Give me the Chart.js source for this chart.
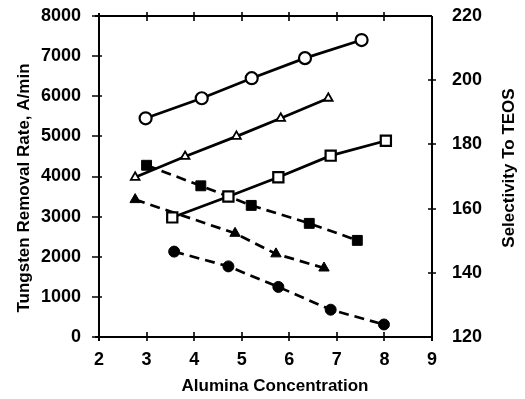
<!DOCTYPE html>
<html>
<head>
<meta charset="utf-8">
<script src="https://cdn.jsdelivr.net/npm/chart.js@4/dist/chart.umd.min.js"></script>
<style>
  html, body { margin: 0; padding: 0; background: #fff; }
  #wrap { width: 525px; height: 399px; position: relative; }
</style>
</head>
<body>
<div id="wrap"><canvas id="c" width="525" height="399"></canvas></div>
<script>
// ---- Data ----
// Tungsten removal rate (A/min), left axis, solid lines, open markers
const openCircleX   = [2.98, 4.16, 5.21, 6.33, 7.52];
const openCircleY   = [5450, 5950, 6450, 6950, 7400];
const openTriangleX = [2.76, 3.81, 4.89, 5.82, 6.82];
const openTriangleY = [3980, 4500, 5000, 5450, 5950];
const openSquareX   = [3.54, 4.72, 5.77, 6.87, 8.03];
const openSquareY   = [2980, 3500, 3980, 4520, 4890];
// Selectivity to TEOS, right axis, dashed lines, filled markers
const filledSquareX   = [3.00, 4.14, 5.20, 6.42, 7.43];
const filledSquareY   = [173.5, 167.1, 161.0, 155.4, 150.1];
const filledTriangleX = [2.76, 4.86, 5.72, 6.73];
const filledTriangleY = [162.8, 152.3, 145.9, 141.5];
const filledCircleX   = [3.58, 4.72, 5.77, 6.87, 7.99];
const filledCircleY   = [146.6, 142.0, 135.6, 128.5, 123.9];

const xTicks  = [2, 3, 4, 5, 6, 7, 8, 9];
const yTicks  = [0, 1000, 2000, 3000, 4000, 5000, 6000, 7000, 8000];
const y1Ticks = [120, 140, 160, 180, 200, 220];

const xTitle  = 'Alumina Concentration';
const yTitle  = 'Tungsten Removal Rate, A/min';
const y1Title = 'Selectivity To TEOS';

function pts(xs, ys) { return xs.map((x, i) => ({ x: x, y: ys[i] })); }

const FONT = "'Liberation Sans', Arial, Helvetica, sans-serif";
const TICKFONT = { family: FONT, size: 18, weight: 'bold' };

const solidBase = { borderColor: '#000', borderWidth: 2.7, backgroundColor: '#fff',
  pointBorderColor: '#000', pointBackgroundColor: '#fff', pointBorderWidth: 2.2, tension: 0, yAxisID: 'y' };
const dashBase = { borderColor: '#000', borderWidth: 2.7, borderDash: [10, 6], backgroundColor: '#000',
  pointBorderColor: '#000', pointBackgroundColor: '#000', pointBorderWidth: 1, tension: 0, yAxisID: 'y1' };

const framePlugin = {
  id: 'frame',
  beforeDatasetsDraw(chart) {
    const ctx = chart.ctx, a = chart.chartArea;
    const xs = chart.scales.x, ys = chart.scales.y, y1 = chart.scales.y1;
    ctx.save();
    ctx.strokeStyle = '#000';
    ctx.lineWidth = 2;
    ctx.beginPath();
    ctx.moveTo(a.left - 4, a.top); ctx.lineTo(a.right, a.top);
    ctx.moveTo(a.left - 4, a.bottom); ctx.lineTo(a.right, a.bottom);
    ctx.moveTo(a.left, a.top - 3); ctx.lineTo(a.left, a.bottom + 4);
    ctx.moveTo(a.right, a.top); ctx.lineTo(a.right, a.bottom + 4);
    ctx.stroke();
    ctx.lineWidth = 1.6;
    ctx.beginPath();
    xTicks.forEach(v => {
      const px = Math.round(xs.getPixelForValue(v));
      ctx.moveTo(px, a.bottom - 5); ctx.lineTo(px, a.bottom + 4);
      if (v > 2 && v < 9) { ctx.moveTo(px, a.top - 4); ctx.lineTo(px, a.top + 5); }
    });
    yTicks.forEach(v => {
      const py = Math.round(ys.getPixelForValue(v));
      ctx.moveTo(a.left - 7, py); ctx.lineTo(a.left + 3, py);
    });
    y1Ticks.forEach(v => {
      if (v === 120 || v === 220) return;
      const py = Math.round(y1.getPixelForValue(v));
      ctx.moveTo(a.right - 4, py); ctx.lineTo(a.right + 4, py);
    });
    ctx.stroke();
    ctx.restore();
  },
  afterDraw(chart) {
    const ctx = chart.ctx;
    ctx.save();
    ctx.fillStyle = '#000';
    ctx.font = 'bold 17px ' + FONT;
    ctx.textAlign = 'center';
    ctx.textBaseline = 'middle';
    ctx.fillText(xTitle, 275, 386);
    ctx.save();
    ctx.translate(24, 188);
    ctx.rotate(-Math.PI / 2);
    ctx.fillText(yTitle, 0, 0);
    ctx.restore();
    ctx.save();
    ctx.translate(509, 168);
    ctx.rotate(-Math.PI / 2);
    ctx.fillText(y1Title, 0, 0);
    ctx.restore();
    ctx.restore();
  }
};

function fixV(w) {
  return s => { s.width = w; s.paddingTop = 0; s.paddingBottom = 0; };
}

new Chart(document.getElementById('c'), {
  type: 'line',
  data: {
    datasets: [
      Object.assign({}, solidBase, { label: 'open circle', data: pts(openCircleX, openCircleY), pointStyle: 'circle', pointRadius: 6 }),
      Object.assign({}, solidBase, { label: 'open triangle', data: pts(openTriangleX, openTriangleY), pointStyle: 'triangle', pointRadius: 5, pointBorderWidth: 1.8 }),
      Object.assign({}, solidBase, { label: 'open square', data: pts(openSquareX, openSquareY), pointStyle: 'rect', pointRadius: 7.2 }),
      Object.assign({}, dashBase, { label: 'filled square', data: pts(filledSquareX, filledSquareY), pointStyle: 'rect', pointRadius: 7 }),
      Object.assign({}, dashBase, { label: 'filled triangle', data: pts(filledTriangleX, filledTriangleY), pointStyle: 'triangle', pointRadius: 6 }),
      Object.assign({}, dashBase, { label: 'filled circle', data: pts(filledCircleX, filledCircleY), pointStyle: 'circle', pointRadius: 5.5 })
    ]
  },
  options: {
    responsive: false,
    animation: false,
    events: [],
    layout: { padding: { top: 16, left: 0, right: 0, bottom: 0 } },
    plugins: { legend: { display: false }, tooltip: { enabled: false } },
    scales: {
      x: {
        type: 'linear', position: 'bottom', min: 2, max: 9,
        afterBuildTicks: s => { s.ticks = xTicks.map(v => ({ value: v })); },
        afterFit: s => { s.height = 62; s.paddingLeft = 0; s.paddingRight = 0; },
        grid: { display: false, drawTicks: false },
        border: { display: false },
        ticks: { color: '#000', font: TICKFONT, padding: 12, callback: v => String(v) },
        title: { display: false, text: xTitle }
      },
      y: {
        type: 'linear', position: 'left', min: 0, max: 8000,
        afterBuildTicks: s => { s.ticks = yTicks.map(v => ({ value: v })); },
        afterFit: fixV(99),
        grid: { display: false, drawTicks: false },
        border: { display: false },
        ticks: { color: '#000', font: TICKFONT, padding: 18, callback: v => String(v) },
        title: { display: false, text: yTitle }
      },
      y1: {
        type: 'linear', position: 'right', min: 120, max: 220,
        afterBuildTicks: s => { s.ticks = y1Ticks.map(v => ({ value: v })); },
        afterFit: fixV(93),
        grid: { display: false, drawTicks: false },
        border: { display: false },
        ticks: { color: '#000', font: TICKFONT, padding: 20, callback: v => String(v) },
        title: { display: false, text: y1Title }
      }
    }
  },
  plugins: [framePlugin]
});
</script>
</body>
</html>
